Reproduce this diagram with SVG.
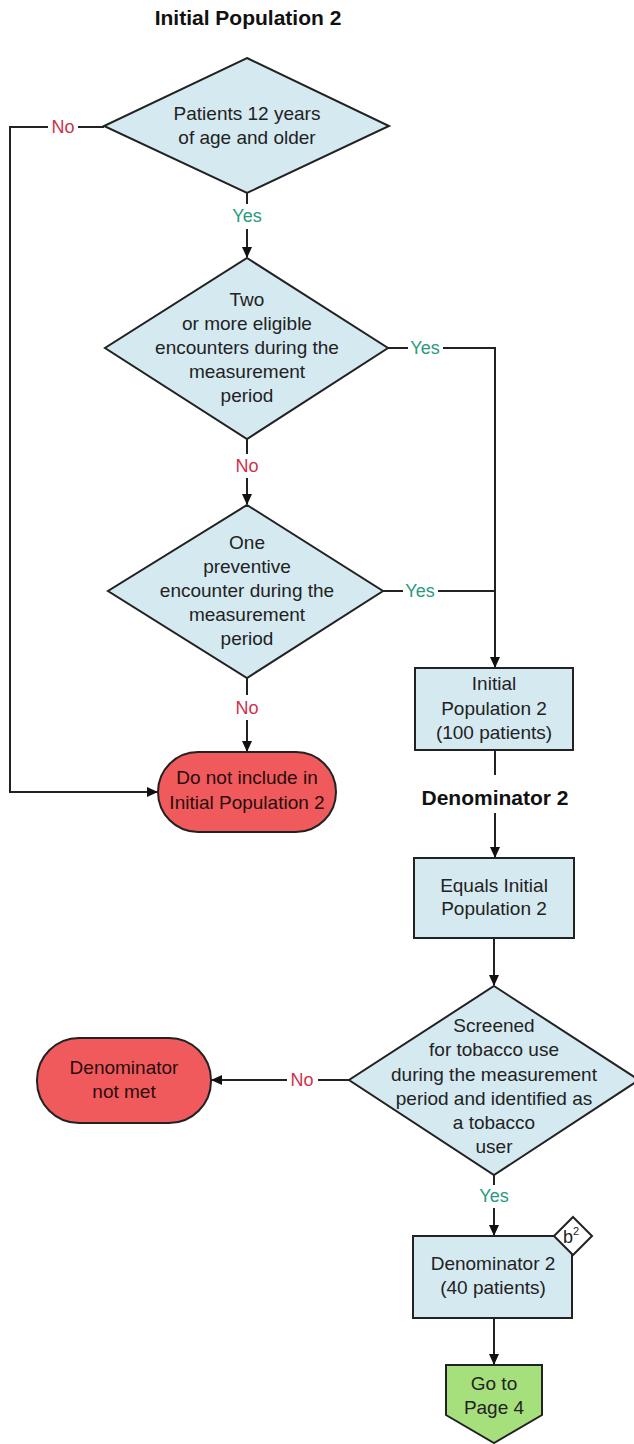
<svg xmlns="http://www.w3.org/2000/svg" width="634" height="1444" viewBox="0 0 634 1444">
<defs>
<style>
.t{font-family:"Liberation Sans",Arial,sans-serif;font-size:19px;fill:#222;text-anchor:middle}
.h{font-family:"Liberation Sans",Arial,sans-serif;font-size:21px;font-weight:bold;fill:#111;text-anchor:middle}
.yes{font-family:"Liberation Sans",Arial,sans-serif;font-size:18px;fill:#2a9a7e;text-anchor:middle}
.no{font-family:"Liberation Sans",Arial,sans-serif;font-size:18px;fill:#d0304c;text-anchor:middle}
.dec{fill:#d5e9f1;stroke:#222;stroke-width:2}
.stop{fill:#f05a5c;stroke:#222;stroke-width:2}
.go{fill:#a6e07c;stroke:#222;stroke-width:2}
.c{fill:none;stroke:#222;stroke-width:2}
.rt{fill:#2a0c0c}
</style>
<marker id="ah" markerWidth="12" markerHeight="12" refX="10" refY="6" orient="auto" markerUnits="userSpaceOnUse">
<path d="M0,1 L11,6 L0,11 Z" fill="#111"/>
</marker>
</defs>
<text class="h" x="248" y="25">Initial Population 2</text>
<g id="connectors">
<path class="c" d="M247 193 V204"/>
<path class="c" d="M247 229 V257" marker-end="url(#ah)"/>
<path class="c" d="M104 127 H78"/>
<path class="c" d="M48 127 H10 V792 H157" marker-end="url(#ah)"/>
<path class="c" d="M388 348 H408"/>
<path class="c" d="M443 348 H495 V667" marker-end="url(#ah)"/>
<path class="c" d="M383 591 H403"/>
<path class="c" d="M438 591 H495"/>
<path class="c" d="M247 439 V454"/>
<path class="c" d="M247 478 V504" marker-end="url(#ah)"/>
<path class="c" d="M247 678 V695"/>
<path class="c" d="M247 720 V751" marker-end="url(#ah)"/>
<path class="c" d="M495 750 V775"/>
<path class="c" d="M495 813 V857" marker-end="url(#ah)"/>
<path class="c" d="M494 938 V985" marker-end="url(#ah)"/>
<path class="c" d="M349 1080 H318"/>
<path class="c" d="M287 1080 H212" marker-end="url(#ah)"/>
<path class="c" d="M494 1175 V1185"/>
<path class="c" d="M494 1208 V1235" marker-end="url(#ah)"/>
<path class="c" d="M494 1318 V1364" marker-end="url(#ah)"/>
<text class="yes" x="247" y="222">Yes</text>
<text class="no" x="63" y="133">No</text>
<text class="yes" x="425" y="354">Yes</text>
<text class="yes" x="420" y="597">Yes</text>
<text class="no" x="247" y="472">No</text>
<text class="no" x="247" y="714">No</text>
<text class="no" x="302" y="1086">No</text>
<text class="yes" x="494" y="1202">Yes</text>
<text class="h" x="495" y="805">Denominator 2</text>
</g>
<g id="d1">
<polygon class="dec" points="247,58 389,126 247,193 104,126"/>
<text class="t" x="247" y="120">Patients 12 years</text>
<text class="t" x="247" y="144">of age and older</text>
</g>
<g id="d2">
<polygon class="dec" points="247,258 388,348 247,439 105,348"/>
<text class="t" x="247" y="306">Two</text>
<text class="t" x="247" y="330">or more eligible</text>
<text class="t" x="247" y="354">encounters during the</text>
<text class="t" x="247" y="378">measurement</text>
<text class="t" x="247" y="402">period</text>
</g>
<g id="d3">
<polygon class="dec" points="247,505 383,591 247,678 108,591"/>
<text class="t" x="247" y="549">One</text>
<text class="t" x="247" y="573">preventive</text>
<text class="t" x="247" y="597">encounter during the</text>
<text class="t" x="247" y="621">measurement</text>
<text class="t" x="247" y="645">period</text>
</g>
<g id="exclude">
<rect class="stop" x="158" y="752" width="178" height="80" rx="40" ry="40"/>
<text class="t rt" x="247" y="784">Do not include in</text>
<text class="t rt" x="247" y="809">Initial Population 2</text>
</g>
<g id="ip">
<rect class="dec" x="415" y="668" width="158" height="82"/>
<text class="t" x="494" y="690">Initial</text>
<text class="t" x="494" y="715">Population 2</text>
<text class="t" x="494" y="739">(100 patients)</text>
</g>
<g id="equals">
<rect class="dec" x="414" y="858" width="160" height="80"/>
<text class="t" x="494" y="892">Equals Initial</text>
<text class="t" x="494" y="915">Population 2</text>
</g>
<g id="d4">
<polygon class="dec" points="494,986 639,1080 494,1175 349,1080"/>
<text class="t" x="494" y="1032">Screened</text>
<text class="t" x="494" y="1056">for tobacco use</text>
<text class="t" x="494" y="1081">during the measurement</text>
<text class="t" x="494" y="1105">period and identified as</text>
<text class="t" x="494" y="1129">a tobacco</text>
<text class="t" x="494" y="1153">user</text>
</g>
<g id="notmet">
<rect class="stop" x="37" y="1038" width="174" height="85" rx="42" ry="42"/>
<text class="t rt" x="124" y="1074">Denominator</text>
<text class="t rt" x="124" y="1098">not met</text>
</g>
<g id="den">
<rect class="dec" x="413" y="1236" width="159" height="82"/>
<text class="t" x="493" y="1270">Denominator 2</text>
<text class="t" x="493" y="1294">(40 patients)</text>
</g>
<g id="b2">
<polygon points="573,1217 592,1236 573,1255 554,1236" fill="#fff" stroke="#222" stroke-width="2"/>
<text x="571" y="1243" style="font-family:'Liberation Sans',Arial,sans-serif;font-size:18px;fill:#222;text-anchor:middle">b<tspan font-size="11" dy="-8">2</tspan></text>
</g>
<g id="goto">
<path class="go" d="M446 1365 H542 V1415 L494 1443 L446 1415 Z"/>
<text class="t" x="494" y="1390">Go to</text>
<text class="t" x="494" y="1414">Page 4</text>
</g>
</svg>
